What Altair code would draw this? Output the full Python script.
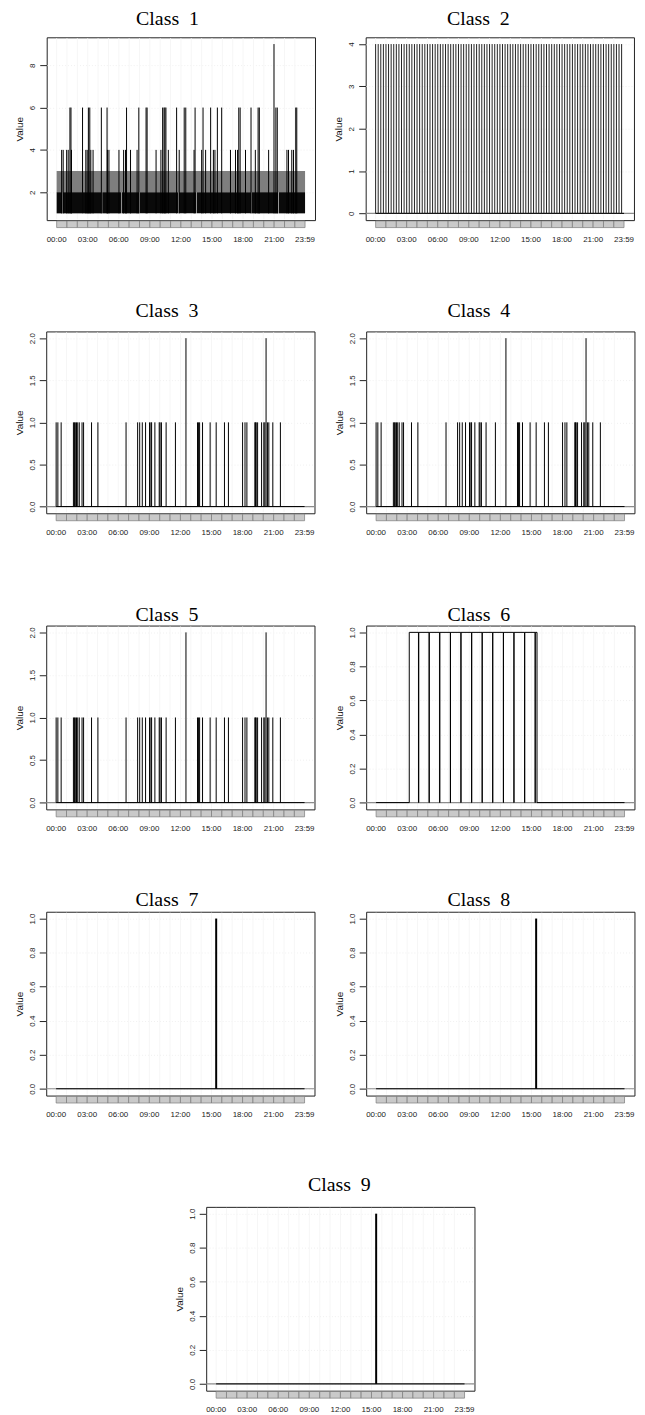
import altair as alt
import pandas as pd

W = 270
XDOM = [-57.56, 1496.56]

HOUR_STARTS = [0, 60, 120, 180, 240, 300, 360, 420, 480, 540, 600, 660, 720, 780,
               840, 900, 960, 1020, 1080, 1140, 1200, 1260, 1320, 1380]
HOUR_ENDS = [60, 120, 180, 240, 300, 360, 420, 480, 540, 600, 660, 720, 780, 840,
             900, 960, 1020, 1080, 1140, 1200, 1260, 1320, 1380, 1439]
TICK_MIN = [0, 180, 360, 540, 720, 900, 1080, 1260, 1439]
TICK_LAB = ["00:00", "03:00", "06:00", "09:00", "12:00", "15:00", "18:00", "21:00", "23:59"]

# ---- Class 1 (series oscillating between 1 and 2/3 with spikes) ----
C1_BAND12_START = [0, 36, 151, 264, 376, 481, 708, 811, 1130, 1287]
C1_BAND12_END = [33, 148, 261, 373, 478, 705, 808, 1127, 1284, 1439]
C1_BAND23_START = [0]
C1_BAND23_END = [1439]
C1_SPIKE4 = [29, 38, 58, 67, 86, 169, 177, 198, 211, 294, 303, 361, 388, 399, 428, 466,
             576, 604, 647, 710, 796, 840, 863, 908, 917, 1007, 1036, 1048, 1094, 1151,
             1228, 1334, 1343, 1362, 1372]
C1_SPIKE6 = [77, 83, 150, 184, 192, 259, 292, 405, 476, 518, 524, 614, 622, 627, 633, 695,
             739, 748, 802, 848, 892, 931, 956, 1055, 1063, 1126, 1167, 1174, 1270, 1278,
             1385, 1391]
C1_SPIKE9 = [1259]

# ---- Class 2 (regular pulses to 4) ----
C2_PULSES = [0, 15, 30, 45, 60, 75, 90, 105, 120, 135, 150, 165, 180, 195, 210, 225, 240,
             255, 270, 285, 300, 315, 330, 345, 360, 375, 390, 405, 420, 435, 450, 465, 480,
             495, 510, 525, 540, 555, 570, 585, 600, 615, 630, 645, 660, 675, 690, 705, 720,
             735, 750, 765, 780, 795, 810, 825, 840, 855, 870, 885, 900, 915, 930, 945, 960,
             975, 990, 1005, 1020, 1035, 1050, 1065, 1080, 1095, 1110, 1125, 1140, 1155, 1170,
             1185, 1200, 1215, 1230, 1245, 1260, 1275, 1290, 1305, 1320, 1335, 1350, 1365,
             1380, 1395, 1410, 1425]
C2_VALUE = 4

# ---- Classes 3-5 (sparse events) ----
C3_ONES = [0, 10, 29, 100, 106, 111, 118, 125, 134, 150, 159, 205, 242, 405, 472, 484, 499,
           518, 541, 549, 553, 572, 597, 602, 610, 637, 691, 819, 825, 831, 848, 892, 927,
           975, 998, 1080, 1094, 1105, 1151, 1155, 1159, 1167, 1190, 1203, 1209, 1224, 1232,
           1255, 1299]
C3_TWOS = [752, 1216]
C4_ONES = C3_ONES
C4_TWOS = C3_TWOS
C5_ONES = C3_ONES
C5_TWOS = C3_TWOS

# ---- Class 6 (on period with hourly one-minute dips) ----
C6_ON = 192
C6_OFF = 932
C6_DIPS = [246, 307, 368, 430, 491, 553, 614, 675, 737, 798, 860, 921]

# ---- Classes 7-9 (single event) ----
C7_EVENT = [927]
C8_EVENT = [927]
C9_EVENT = [927]

TITLE_FONT = "Liberation Serif"
SANS = "Liberation Sans"


def xenc():
    return alt.X("m:Q", scale=alt.Scale(domain=XDOM, nice=False, zero=False), axis=None)


def make_panel(title, data_layers, ydom, yticks, yfmt, H, dx, tgap, top_extra, bottom_extra,
               zero_line=True):
    yscale = alt.Scale(domain=ydom, nice=False, zero=False)
    yaxis = alt.Axis(values=yticks, format=yfmt, labelAngle=-90, labelAlign="center",
                     labelBaseline="bottom", tickSize=7, tickColor="#222", tickWidth=1,
                     domain=False, grid=True, gridColor="#f0f0f0", gridDash=[1, 2],
                     labelFont=SANS, labelFontSize=8, labelColor="#222", labelPadding=3,
                     titleFont=SANS, titleFontSize=10, titleFontWeight="normal",
                     titleColor="#111", titlePadding=4)

    def Y():
        return alt.Y("v:Q", scale=yscale, axis=yaxis, title="Value")

    layers = []
    vg = pd.DataFrame({"m": HOUR_STARTS})
    layers.append(alt.Chart(vg).mark_rule(stroke="#f6f6f6", strokeWidth=1)
                  .encode(x=xenc(), y=alt.value(1), y2=alt.value(H - 1)))
    if zero_line:
        z = pd.DataFrame({"v": [0]})
        layers.append(alt.Chart(z).mark_rule(stroke="#8c8c8c", strokeWidth=1.2)
                      .encode(y=Y(), x=alt.value(0), x2=alt.value(W)))
    for lay in data_layers:
        layers.append(lay(Y))
    tiles = pd.DataFrame({"m": HOUR_STARTS, "m2": HOUR_ENDS})
    layers.append(alt.Chart(tiles).mark_rect(fill="#c9c9c9", stroke="#7a7a7a", strokeWidth=0.7)
                  .encode(x=xenc(), x2="m2:Q", y=alt.value(H + 0.8), y2=alt.value(H + 7.5)))
    labs = pd.DataFrame({"m": TICK_MIN, "lab": TICK_LAB})
    layers.append(alt.Chart(labs).mark_text(font=SANS, fontSize=8, color="#222",
                                            align="center", baseline="middle")
                  .encode(x=xenc(), y=alt.value(H + 19.5), text="lab:N"))
    tdf = pd.DataFrame({"t": [title]})
    layers.append(alt.Chart(tdf).mark_text(font=TITLE_FONT, fontSize=20, color="black",
                                           align="center", baseline="alphabetic")
                  .encode(x=alt.value(W / 2 + dx), y=alt.value(-tgap), text="t:N"))
    # invisible spacers that fix the gaps above and below this row
    sp = pd.DataFrame({"s": [0, 1]})
    layers.append(alt.Chart(sp).mark_rule(strokeOpacity=0, opacity=0)
                  .encode(x=alt.value(W / 2), x2=alt.value(W / 2 + 1),
                          y=alt.value(-top_extra), detail="s:N"))
    if bottom_extra:
        layers.append(alt.Chart(sp).mark_rule(strokeOpacity=0, opacity=0)
                      .encode(x=alt.value(W / 2), x2=alt.value(W / 2 + 1),
                              y=alt.value(H + bottom_extra), detail="s:N"))
    return alt.layer(*layers).properties(width=W, height=H)


def spikes(minutes, base, value, color="black", width=1.0):
    df = pd.DataFrame({"m": minutes, "v": [base] * len(minutes), "v2": [value] * len(minutes)})

    def f(Y):
        return alt.Chart(df).mark_rule(color=color, strokeWidth=width).encode(
            x=xenc(), y=Y(), y2="v2:Q")
    return f


def bands(starts, ends, lo, hi, color):
    df = pd.DataFrame({"m": starts, "m2": ends, "v": [lo] * len(starts), "v2": [hi] * len(starts)})

    def f(Y):
        return alt.Chart(df).mark_rect(color=color).encode(x=xenc(), x2="m2:Q", y=Y(), y2="v2:Q")
    return f


def baseline0():
    df = pd.DataFrame({"m": [0], "m2": [1439], "v": [0]})

    def f(Y):
        return alt.Chart(df).mark_rule(color="black", strokeWidth=1).encode(
            x=xenc(), x2="m2:Q", y=Y())
    return f


def class6_line():
    ms = [0, C6_ON, C6_ON]
    vs = [0, 0, 1]
    for d in C6_DIPS:
        ms += [d, d, d + 1, d + 1]
        vs += [1, 0, 0, 1]
    ms += [C6_OFF, C6_OFF, 1439]
    vs += [1, 0, 0]
    df = pd.DataFrame({"m": ms, "v": vs, "o": list(range(len(ms)))})

    def f(Y):
        return alt.Chart(df).mark_line(color="black", strokeWidth=1, interpolate="linear").encode(
            x=xenc(), y=Y(), order="o:Q")
    return f


LDX, RDX = -13.4, -21.6
T01 = [0, 0.5, 1, 1.5, 2]
T02 = [0, 0.2, 0.4, 0.6, 0.8, 1.0]

p1 = make_panel("Class\u00a0 1",
                [bands(C1_BAND23_START, C1_BAND23_END, 2, 3, "#7e7e7e"),
                 bands(C1_BAND12_START, C1_BAND12_END, 1, 2, "#0a0a0a"),
                 spikes(C1_SPIKE4, 1, 4), spikes(C1_SPIKE6, 1, 6), spikes(C1_SPIKE9, 1, 9)],
                [0.68, 9.32], [2, 4, 6, 8], "d", 184, LDX, 12, 37, 78.5, zero_line=False)
p2 = make_panel("Class\u00a0 2", [baseline0(), spikes(C2_PULSES, 0, C2_VALUE, "#222")],
                [-0.16, 4.16], [0, 1, 2, 3, 4], "d", 184, RDX, 12, 37, 78.5)
p3 = make_panel("Class\u00a0 3", [baseline0(), spikes(C3_ONES, 0, 1), spikes(C3_TWOS, 0, 2)],
                [-0.08, 2.08], T01, ".1f", 183, LDX, 14.7, 32, 79)
p4 = make_panel("Class\u00a0 4", [baseline0(), spikes(C4_ONES, 0, 1), spikes(C4_TWOS, 0, 2)],
                [-0.08, 2.08], T01, ".1f", 183, RDX, 14.7, 32, 79)
p5 = make_panel("Class\u00a0 5", [baseline0(), spikes(C5_ONES, 0, 1), spikes(C5_TWOS, 0, 2)],
                [-0.08, 2.08], T01, ".1f", 185, LDX, 5, 32, 69)
p6 = make_panel("Class\u00a0 6", [class6_line()],
                [-0.04, 1.04], T02, ".1f", 185, RDX, 5, 32, 69)
p7 = make_panel("Class\u00a0 7", [baseline0(), spikes(C7_EVENT, 0, 1, "black", 2)],
                [-0.04, 1.04], T02, ".1f", 185, LDX, 5.3, 32, 77.6)
p8 = make_panel("Class\u00a0 8", [baseline0(), spikes(C8_EVENT, 0, 1, "black", 2)],
                [-0.04, 1.04], T02, ".1f", 185, RDX, 5.3, 32, 77.6)
p9 = make_panel("Class\u00a0 9", [baseline0(), spikes(C9_EVENT, 0, 1, "black", 2)],
                [-0.04, 1.04], T02, ".1f", 185, -1, 15.6, 32, 0)

HS = 17
r1 = alt.hconcat(p1, p2, spacing=HS)
r2 = alt.hconcat(p3, p4, spacing=HS)
r3 = alt.hconcat(p5, p6, spacing=HS)
r4 = alt.hconcat(p7, p8, spacing=HS)

chart = alt.vconcat(r1, r2, r3, r4, p9, spacing=0, center=True).properties(
    padding={"left": 5, "top": -13, "right": 1, "bottom": 0},
    background="white",
).configure_view(stroke="#222", strokeWidth=1)

chart.save("out.html", embed_options={"renderer": "svg", "actions": False})
